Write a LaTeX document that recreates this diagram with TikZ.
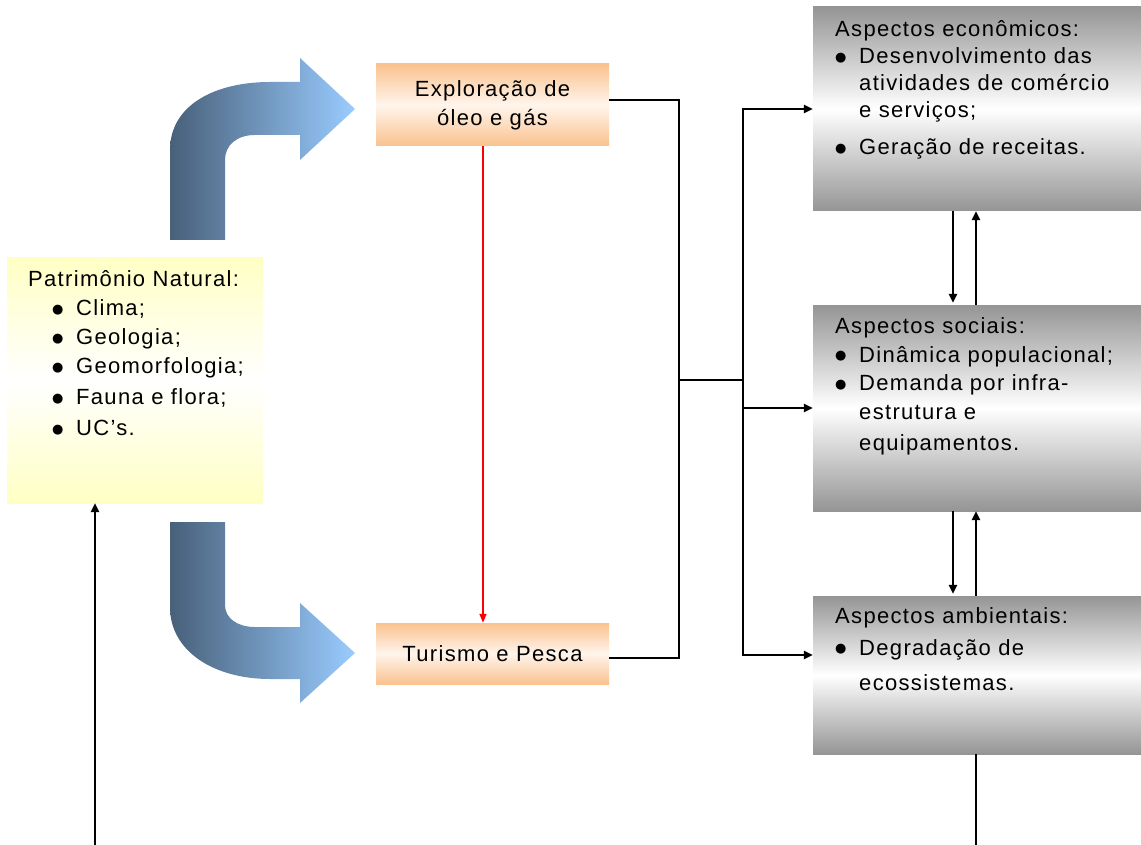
\documentclass[tikz,border=0pt]{standalone}
\usepackage{fontspec}
\setmainfont{Liberation Sans}[LetterSpace=6]
\newfontfamily\djfont{DejaVu Sans}
\usetikzlibrary{arrows.meta,calc}
\definecolor{arrL}{HTML}{48607A}
\definecolor{arrR}{HTML}{99CCFF}
\definecolor{orng}{HTML}{FAC28E}
\definecolor{orngmid}{HTML}{FFF5EC}
\definecolor{ylw}{HTML}{FFFFC4}
\definecolor{gry}{HTML}{959595}
\newcommand{\dotb}{\raisebox{2.5pt}{\fontsize{13}{13}\djfont ●}}
\newcommand{\bl}{\makebox[24pt][l]{\dotb}}
\newcommand{\ind}{\hspace*{24pt}}
\tikzset{
  orangebox/.style={inner sep=0pt, minimum width=233pt, top color=orng, bottom color=orng, middle color=orngmid, align=center, font=\fontsize{22}{29}\selectfont},
  graybox/.style={inner sep=0pt, minimum width=328pt, top color=gry, bottom color=gry, middle color=white},
  yellowbox/.style={inner sep=0pt, minimum width=256pt, minimum height=245pt, top color=ylw, bottom color=ylw, middle color=white},
  txt/.style={anchor=base west, inner sep=0pt},
  conn/.style={line width=2.6pt, black},
  arr/.style={conn, -{Triangle[length=9pt,width=8pt]}},
  redarr/.style={line width=1.5pt, red, -{Triangle[length=9pt,width=7pt]}},
  bigarrow/.style={left color=arrL, right color=arrR}
}
\begin{document}
\begin{tikzpicture}[x=1pt,y=-1pt]
\useasboundingbox (0,0) rectangle (1141,845);
\fill[white] (0,0) rectangle (1141,845);

% curved arrows
\shade[bigarrow] (170,240) -- (170,150) .. controls (170,105) and (215,82) .. (270,82) -- (300,82) -- (300,58) -- (355,109) -- (300,160) -- (300,135) -- (255,135) .. controls (237,135) and (225,145) .. (225,160) -- (225,240) -- cycle;
\shade[bigarrow] (170,522) -- (170,607) .. controls (170,652) and (215,679) .. (270,679) -- (300,679) -- (300,703) -- (355,653) -- (300,603) -- (300,627) -- (255,627) .. controls (237,627) and (225,618) .. (225,605) -- (225,522) -- cycle;

% boxes
\node[yellowbox] (pat) at (135,380.5) {};
\node[txt] (pattxt) at (28,287) {\fontsize{22}{29}\selectfont\begin{tabular}[t]{@{}l@{}}Patrimônio Natural:\\
\hspace*{24pt}\makebox[24pt][l]{\dotb}Clima;\\
\hspace*{24pt}\makebox[24pt][l]{\dotb}Geologia;\\
\hspace*{24pt}\makebox[24pt][l]{\dotb}Geomorfologia;\\[2pt]
\hspace*{24pt}\makebox[24pt][l]{\dotb}Fauna e flora;\\[2pt]
\hspace*{24pt}\makebox[24pt][l]{\dotb}UC’s.\end{tabular}};

\node[orangebox, minimum height=82pt] (expl) at (492.5,105) {Exploração de\\óleo e gás};
\node[orangebox, minimum height=61pt] (tur) at (492.5,653.5) {Turismo e Pesca};

\node[graybox, minimum height=204pt] (econ) at (977,109) {};
\node[graybox, minimum height=206pt] (soc) at (977,408) {};
\node[graybox, minimum height=158pt] (amb) at (977,675) {};

\node[txt] (econtxt) at (835,37) {\fontsize{22}{27}\selectfont\begin{tabular}[t]{@{}l@{}}Aspectos econômicos:\\
\bl Desenvolvimento das\\
\ind atividades de comércio\\
\ind e serviços;\\[10pt]
\bl Geração de receitas.\end{tabular}};

\node[txt] (soctxt) at (835,333) {\fontsize{22}{29}\selectfont\begin{tabular}[t]{@{}l@{}}Aspectos sociais:\\
\bl Dinâmica populacional;\\
\bl Demanda por infra-\\[-1pt]
\ind estrutura e\\[3pt]
\ind equipamentos.\end{tabular}};

\node[txt] (ambtxt) at (835,623) {\fontsize{22}{29}\selectfont\begin{tabular}[t]{@{}l@{}}Aspectos ambientais:\\[3pt]
\bl Degradação de\\[6pt]
\ind ecossistemas.\end{tabular}};

% red arrow
\coordinate (rx) at (483,0);
\draw[redarr] (expl.south -| rx) -- (tur.north -| rx);

% connectors
\coordinate (eo) at ($(expl.east)+(0,-5)$);
\coordinate (to) at ($(tur.east)+(0,4.5)$);
\coordinate (c1) at (679,100);
\coordinate (c2) at (679,658);
\draw[conn] (eo) -- (c1) -- (c2) -- (to);
\coordinate (j1) at (679,380);
\coordinate (j2) at (743,380);
\coordinate (ambin) at ($(amb.west)+(0,-20)$);
\draw[conn] (j1) -- (j2);
\draw[arr] (j2) |- (econ.west);
\draw[arr] (j2) |- (soc.west);
\draw[arr] (j2) |- (ambin);

% vertical pairs
\coordinate (xd) at (953,0);
\coordinate (xu) at (976,0);
\draw[arr, shorten >=2pt] (econ.south -| xd) -- (soc.north -| xd);
\draw[arr] (soc.north -| xu) -- (econ.south -| xu);
\draw[arr, shorten >=2pt] (soc.south -| xd) -- (amb.north -| xd);
\draw[arr] (amb.north -| xu) -- (soc.south -| xu);

% feedback
\coordinate (b1) at (976,846);
\coordinate (b2) at (95,846);
\draw[arr] (amb.south -| b1) -- (b1) -- (b2) -- (pat.south -| b2);
\end{tikzpicture}
\end{document}
